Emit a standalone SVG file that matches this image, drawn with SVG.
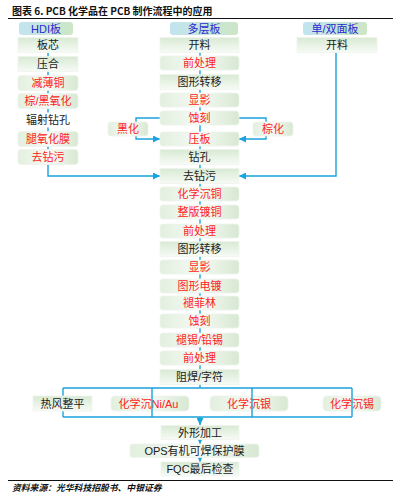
<svg xmlns="http://www.w3.org/2000/svg" width="407" height="498" viewBox="0 0 407 498">
<style>
.t{font-family:"Liberation Sans","Noto Sans CJK SC",sans-serif;font-size:11px;text-anchor:middle;dominant-baseline:central}
.k{fill:#1a1a1a}
.r{fill:#ff2222}
.h{fill:#2a2ad0}
.bx{fill:url(#gb);stroke:#eef4ec;stroke-width:0.8}
.rb{fill:url(#gr);stroke:#eef4ec;stroke-width:0.8}
.hb{fill:url(#gh)}
.ln{stroke:#1aa3dc;stroke-width:1.4;fill:none}
.ttl{font-family:"Noto Sans CJK SC","Noto Sans",sans-serif;font-size:10px;font-weight:bold;fill:#111}
.src{font-family:"Noto Sans CJK SC",sans-serif;font-size:8.8px;font-style:italic;font-weight:bold;fill:#111}
</style>
<defs>
<linearGradient id="gb" x1="0" y1="0" x2="0" y2="1"><stop offset="0" stop-color="#d8e9d3"/><stop offset="1" stop-color="#f7fbf6"/></linearGradient>
<linearGradient id="gr" x1="0" y1="0" x2="1" y2="0"><stop offset="0" stop-color="#e2efde"/><stop offset="0.5" stop-color="#f6faf5"/><stop offset="1" stop-color="#d7e8d2"/></linearGradient>
<linearGradient id="gh" x1="0" y1="0" x2="1" y2="0"><stop offset="0" stop-color="#c2e4f0"/><stop offset="1" stop-color="#cde6c6"/></linearGradient>
<marker id="ar" viewBox="0 0 10 10" refX="10" refY="5" markerWidth="7" markerHeight="7" markerUnits="userSpaceOnUse" orient="auto"><path d="M0,0 L10,5 L0,10 z" fill="#1aa3dc"/></marker>
</defs>
<rect width="407" height="498" fill="#fff"/>
<text class="ttl" x="12" y="15">图表 6. PCB 化学品在 PCB 制作流程中的应用</text>
<line x1="8" y1="18.5" x2="393" y2="18.5" stroke="#111" stroke-width="1.2"/>
<g id="connectors">
<path class="ln" d="M200,52 V388"/>
<path class="ln" d="M48,52 V176 H160" marker-end="url(#ar)"/>
<path class="ln" d="M336,52 V176 H239" marker-end="url(#ar)"/>
<path class="ln" d="M160,118 H136 V139 H160" marker-end="url(#ar)"/>
<path class="ln" d="M239,118 H266 V139 H239" marker-end="url(#ar)"/>
<path class="ln" d="M63,388 H352 M63,417 H352 M63,388 V417"/>
<path class="ln" d="M200,417 V425" marker-end="url(#ar)"/>
<path class="ln" d="M200,439 V444" marker-end="url(#ar)"/>
<path class="ln" d="M200,457 V462" marker-end="url(#ar)"/>
</g>
<g id="hdr-hdi"><rect class="hb" x="19" y="22" width="54" height="13" rx="3"/><text class="t h" x="46" y="28.5">HDI板</text></g>
<g id="hdr-ml"><rect class="hb" x="170" y="22" width="68" height="13" rx="3"/><text class="t h" x="204" y="28.5">多层板</text></g>
<g id="hdr-sd"><rect class="hb" x="303" y="22" width="64" height="13" rx="3"/><text class="t h" x="335" y="28.5">单/双面板</text></g>
<g id="l1"><rect class="bx" x="18" y="37.5" width="60" height="15"/><text class="t k" x="48" y="45">板芯</text></g>
<g id="l2"><rect class="bx" x="18" y="56.5" width="60" height="15"/><text class="t k" x="48" y="64">压合</text></g>
<g id="l3"><rect class="rb" x="18" y="75.5" width="60" height="15" rx="3"/><text class="t r" x="48" y="83">减薄铜</text></g>
<g id="l4"><rect class="rb" x="18" y="93.5" width="60" height="15" rx="3"/><text class="t r" x="48" y="101">棕/黑氧化</text></g>
<g id="l5"><rect x="18" y="112.5" width="60" height="15" fill="#fff"/><text class="t k" x="48" y="120">辐射钻孔</text></g>
<g id="l6"><rect class="rb" x="18" y="131.5" width="60" height="15" rx="3"/><text class="t r" x="48" y="139">腿氧化膜</text></g>
<g id="l7"><rect class="rb" x="18" y="149.5" width="60" height="15" rx="3"/><text class="t r" x="48" y="157">去钻污</text></g>
<g id="r1"><rect class="bx" x="297" y="37.5" width="80" height="15"/><text class="t k" x="337" y="45">开料</text></g>
<g id="bh"><rect class="rb" x="108" y="122" width="40" height="14" rx="3"/><text class="t r" x="128" y="129">黑化</text></g>
<g id="zh"><rect class="rb" x="253" y="122" width="40" height="14" rx="3"/><text class="t r" x="273" y="129">棕化</text></g>
<g id="m1"><rect class="bx" x="160" y="37.5" width="79" height="15"/><text class="t k" x="199.5" y="45">开料</text></g>
<g id="m2"><rect class="rb" x="160" y="56" width="79" height="14" rx="3"/><text class="t r" x="199.5" y="63">前处理</text></g>
<g id="m3"><rect class="bx" x="160" y="74.5" width="79" height="15"/><text class="t k" x="199.5" y="82">图形转移</text></g>
<g id="m4"><rect class="rb" x="160" y="93" width="79" height="14" rx="3"/><text class="t r" x="199.5" y="100">显影</text></g>
<g id="m5"><rect class="rb" x="160" y="111" width="79" height="14" rx="3"/><text class="t r" x="199.5" y="118">蚀刻</text></g>
<g id="m6"><rect class="rb" x="160" y="132" width="79" height="14" rx="3"/><text class="t r" x="199.5" y="139">压板</text></g>
<g id="m7"><rect class="bx" x="160" y="149.5" width="79" height="15"/><text class="t k" x="199.5" y="157">钻孔</text></g>
<g id="m8"><rect class="bx" x="160" y="168.5" width="79" height="15"/><text class="t k" x="199.5" y="176">去钻污</text></g>
<g id="m9"><rect class="rb" x="160" y="187" width="79" height="14" rx="3"/><text class="t r" x="199.5" y="194">化学沉铜</text></g>
<g id="m10"><rect class="rb" x="160" y="205" width="79" height="14" rx="3"/><text class="t r" x="199.5" y="212">整版镀铜</text></g>
<g id="m11"><rect class="rb" x="160" y="224" width="79" height="14" rx="3"/><text class="t r" x="199.5" y="231">前处理</text></g>
<g id="m12"><rect class="bx" x="160" y="241.5" width="79" height="15"/><text class="t k" x="199.5" y="249">图形转移</text></g>
<g id="m13"><rect class="rb" x="160" y="260" width="79" height="14" rx="3"/><text class="t r" x="199.5" y="267">显影</text></g>
<g id="m14"><rect class="rb" x="160" y="279" width="79" height="14" rx="3"/><text class="t r" x="199.5" y="286">图形电镀</text></g>
<g id="m15"><rect class="rb" x="160" y="296" width="79" height="14" rx="3"/><text class="t r" x="199.5" y="303">褪菲林</text></g>
<g id="m16"><rect class="rb" x="160" y="314" width="79" height="14" rx="3"/><text class="t r" x="199.5" y="321">蚀刻</text></g>
<g id="m17"><rect class="rb" x="160" y="333" width="79" height="14" rx="3"/><text class="t r" x="199.5" y="340">褪锡/铅锡</text></g>
<g id="m18"><rect class="rb" x="160" y="351" width="79" height="14" rx="3"/><text class="t r" x="199.5" y="358">前处理</text></g>
<g id="m19"><rect class="bx" x="160" y="369.5" width="79" height="15"/><text class="t k" x="199.5" y="377">阻焊/字符</text></g>
<g id="f1"><rect class="bx" x="33" y="396" width="59" height="15"/><text class="t k" x="62.5" y="403.5">热风整平</text></g>
<g id="f2"><rect class="rb" x="111" y="396" width="78" height="15" rx="4"/><text class="t r" x="148.5" y="403.5">化学沉Ni/Au</text></g>
<g id="f3"><rect class="rb" x="210" y="396" width="78" height="15" rx="4"/><text class="t r" x="249" y="403.5">化学沉银</text></g>
<g id="f4"><rect class="rb" x="323" y="396" width="58" height="15" rx="4"/><text class="t r" x="352" y="403.5">化学沉锡</text></g>
<g id="connectors-over">
<path class="ln" d="M152,388 V417 M252,388 V417 M352,388 V417"/>
</g>
<g id="w1"><rect class="bx" x="161" y="425.5" width="78" height="14"/><text class="t k" x="200" y="432.5">外形加工</text></g>
<g id="w2"><rect class="rb" x="130" y="444" width="129" height="13.5" rx="3"/><text class="t k" x="194.5" y="450.7">OPS有机可焊保护膜</text></g>
<g id="w3"><rect class="bx" x="161" y="462" width="78" height="14"/><text class="t k" x="200" y="469">FQC最后检查</text></g>
<line x1="8" y1="480.5" x2="393" y2="480.5" stroke="#111" stroke-width="1.2"/>
<text class="src" x="12" y="491">资料来源：光华科技招股书、中银证券</text>
</svg>
